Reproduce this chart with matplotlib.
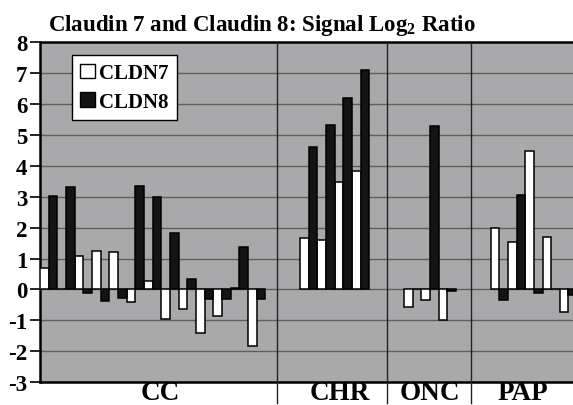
import matplotlib
matplotlib.use('Agg')
import matplotlib.pyplot as plt
from matplotlib.patches import Patch

# 数据 (Signal Log2 Ratio)
groups = ['CC', 'CHR', 'ONC', 'PAP']
cldn7 = {
    'CC': [0.70, 0.0, 1.07, 1.23, 1.20, -0.42, 0.27, -0.97, -0.62, -1.42, -0.85, 0.04, -1.84],
    'CHR': [1.65, 1.61, 3.46, 3.82],
    'ONC': [-0.57, -0.33, -0.98],
    'PAP': [1.98, 1.53, 4.47, 1.70, -0.73],
}
cldn8 = {
    'CC': [3.02, 3.30, -0.12, -0.38, -0.28, 3.34, 2.98, 1.82, 0.33, -0.30, -0.30, 1.38, -0.30],
    'CHR': [4.60, 5.32, 6.20, 7.08],
    'ONC': [0.0, 5.28, -0.06],
    'PAP': [-0.35, 3.05, -0.10, 0.0, -0.17],
}
yticks = list(range(-3, 9))

plt.rcParams['font.family'] = ['Liberation Serif', 'DejaVu Serif']
plt.rcParams['font.weight'] = 'bold'
plt.rcParams['mathtext.fontset'] = 'custom'
plt.rcParams['mathtext.rm'] = 'Liberation Serif:bold'
plt.rcParams['mathtext.bf'] = 'Liberation Serif:bold'

fig = plt.figure(figsize=(5.73, 4.06), dpi=100)
ax = fig.add_axes([40 / 573, 22.7 / 406, 1 - 40 / 573, 340.3 / 406])
ax.set_facecolor('#a9a9ab')

# 每组之间空两个位置
pos = 0
for g in groups:
    n = len(cldn7[g])
    xs = [pos + i for i in range(n)]
    ax.bar([x + 0.25 for x in xs], cldn7[g], width=0.5, color='white',
           edgecolor='black', linewidth=1.1, zorder=3)
    ax.bar([x + 0.75 for x in xs], cldn8[g], width=0.5, color='#141414',
           edgecolor='black', linewidth=1.1, zorder=3)
    pos += n + 2

ax.set_xlim(0, 30.76)
ax.set_ylim(-3, 8)
ax.set_yticks(yticks)
ax.set_yticklabels([str(t) for t in yticks], fontsize=16.5, fontweight='bold')
ax.set_xticks([])
ax.yaxis.grid(True, color='#5e5e5e', linewidth=1.0, zorder=1)
ax.set_axisbelow(True)
ax.tick_params(axis='y', direction='out', length=7, width=1.2, pad=2)

for side in ['left', 'top', 'bottom']:
    ax.spines[side].set_linewidth(1.8)
    ax.spines[side].set_color('black')
ax.spines['right'].set_visible(False)

# 分组分隔线
for sx in [13.7, 20.0, 24.9]:
    ax.plot([sx, sx], [-0.06, 1], color='#222222', linewidth=1.0,
            transform=ax.get_xaxis_transform(), clip_on=False, zorder=4)

label_x = [6.95, 17.3, 22.5, 27.85]
for g, lx in zip(groups, label_x):
    ax.text(lx, -0.066, g, transform=ax.get_xaxis_transform(), ha='center',
            va='bottom', fontsize=19.5, fontweight='bold')

handles = [Patch(facecolor='white', edgecolor='black', linewidth=1.0, label='CLDN7'),
           Patch(facecolor='#141414', edgecolor='black', linewidth=1.0, label='CLDN8')]
leg = ax.legend(handles=handles, loc='upper left', bbox_to_anchor=(0.0595, 0.962),
                borderaxespad=0, fancybox=False, edgecolor='black', framealpha=1,
                prop={'family': 'Liberation Serif', 'weight': 'bold', 'size': 15},
                handlelength=0.7, handleheight=0.7, handletextpad=0.2,
                labelspacing=0.4, borderpad=0.4)
leg.get_frame().set_linewidth(1.0)
leg.set_zorder(5)

fig.text(0.457, 0.937, r'Claudin 7 and Claudin 8: Signal Log$_\mathbf{2}$ Ratio',
         ha='center', va='center', fontsize=16.5, fontweight='bold')

fig.savefig('out.png', dpi=100)
